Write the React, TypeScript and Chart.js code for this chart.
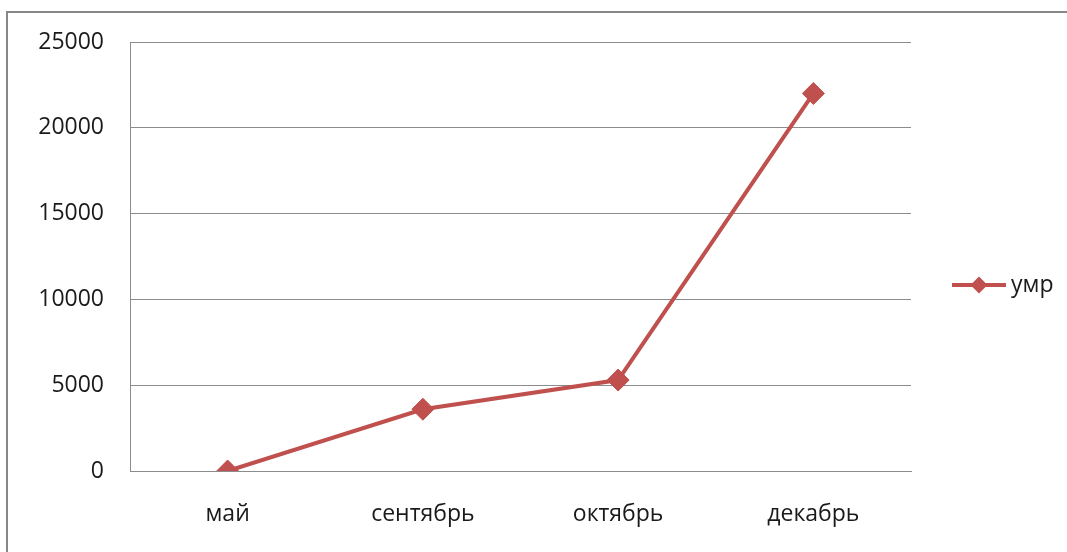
import React, { useEffect, useRef } from "react";
import { Chart, registerables } from "chart.js";

Chart.register(...registerables);

const categories = ["май", "сентябрь", "октябрь", "декабрь"];
const seriesLabel = "умр";
const seriesValues = [0, 3600, 5300, 22000];
const yTicks = [0, 5000, 10000, 15000, 20000, 25000];

const RED = "#C0504D";
const GRID = "#8C8C8C";
const TEXT = "#1A1A1A";
const FONT = "'Open Sans', 'DejaVu Sans', sans-serif";

const W = 1067;
const H = 552;

const framePlugin = {
  id: "frame",
  afterDraw(chart: any) {
    const ctx = chart.ctx;
    ctx.save();
    ctx.strokeStyle = "#878787";
    ctx.lineWidth = 2;
    ctx.beginPath();
    ctx.moveTo(7, H + 5);
    ctx.lineTo(7, 12);
    ctx.lineTo(W + 5, 12);
    ctx.stroke();
    ctx.restore();
  },
};

const legendPlugin = {
  id: "customLegend",
  afterDraw(chart: any) {
    const ctx = chart.ctx;
    const ds = chart.data.datasets[0];
    const y = 285;
    const x0 = 952;
    const x1 = 1006;
    ctx.save();
    ctx.strokeStyle = ds.borderColor;
    ctx.lineWidth = 4;
    ctx.beginPath();
    ctx.moveTo(x0, y);
    ctx.lineTo(x1, y);
    ctx.stroke();
    const cx = (x0 + x1) / 2;
    const r = 8.5;
    ctx.fillStyle = ds.borderColor;
    ctx.beginPath();
    ctx.moveTo(cx, y - r);
    ctx.lineTo(cx + r, y);
    ctx.lineTo(cx, y + r);
    ctx.lineTo(cx - r, y);
    ctx.closePath();
    ctx.fill();
    ctx.fillStyle = TEXT;
    ctx.font = `23px ${FONT}`;
    ctx.textAlign = "left";
    ctx.textBaseline = "middle";
    ctx.fillText(ds.label, 1011, y);
    ctx.restore();
  },
};

export default function App() {
  const ref = useRef<HTMLCanvasElement | null>(null);

  useEffect(() => {
    if (!ref.current) return;
    const chart = new Chart(ref.current, {
      type: "line",
      data: {
        labels: categories,
        datasets: [
          {
            label: seriesLabel,
            data: seriesValues,
            borderColor: RED,
            backgroundColor: RED,
            borderWidth: 4,
            pointStyle: "rectRot",
            pointRadius: 11,
            pointBackgroundColor: RED,
            pointBorderColor: RED,
            pointBorderWidth: 1,
            tension: 0,
          },
        ],
      },
      options: {
        animation: false,
        responsive: false,
        devicePixelRatio: 1,
        layout: { padding: { top: 42, right: W - 911, left: 0, bottom: 0 } },
        plugins: { legend: { display: false }, tooltip: { enabled: false } },
        scales: {
          x: {
            type: "category",
            offset: true,
            grid: { display: false, drawTicks: false },
            border: { display: true, color: GRID, width: 1 },
            ticks: {
              color: TEXT,
              font: { family: FONT, size: 23 },
              padding: 30,
              maxRotation: 0,
            },
            afterFit(scale: any) {
              scale.height = H - 471;
            },
          },
          y: {
            min: 0,
            max: 25000,
            afterBuildTicks(scale: any) {
              scale.ticks = yTicks.map((v) => ({ value: v }));
            },
            grid: { color: GRID, lineWidth: 1, drawTicks: false },
            border: { display: true, color: GRID, width: 1 },
            ticks: {
              color: TEXT,
              font: { family: FONT, size: 23 },
              padding: 26,
              callback: (v: any) => String(v),
            },
            afterFit(scale: any) {
              scale.width = 130;
            },
          },
        },
      },
      plugins: [framePlugin, legendPlugin],
    });
    return () => chart.destroy();
  }, []);

  return (
    <div style={{ position: "fixed", left: 0, top: 0, width: W, height: H, background: "#fff" }}>
      <canvas ref={ref} width={W} height={H} style={{ display: "block", width: W, height: H }} />
    </div>
  );
}
